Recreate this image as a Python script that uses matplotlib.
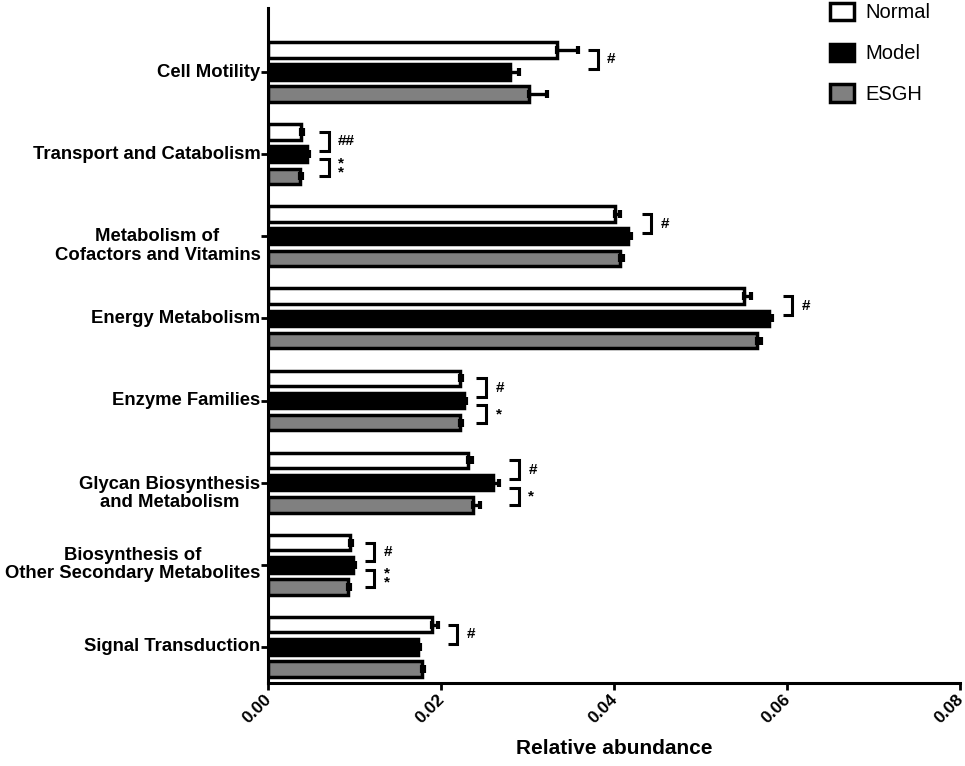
import matplotlib

matplotlib.use("Agg")
import matplotlib.pyplot as plt
import numpy as np
from matplotlib.patches import Patch
from matplotlib.transforms import ScaledTranslation, blended_transform_factory

plt.rcParams["font.family"] = ["Liberation Sans", "DejaVu Sans"]

# ---- data ----
categories = [
    "Cell Motility",
    "Transport and Catabolism",
    "Metabolism of\nCofactors and Vitamins",
    "Energy Metabolism",
    "Enzyme Families",
    "Glycan Biosynthesis\nand Metabolism",
    "Biosynthesis of\nOther Secondary Metabolites",
    "Signal Transduction",
]
normal = [0.0334, 0.0038, 0.0401, 0.0550, 0.0222, 0.0231, 0.0095, 0.0190]
normal_err = [0.0024, 0.0002, 0.0006, 0.0008, 0.0002, 0.0005, 0.0002, 0.0006]
model = [0.0280, 0.0045, 0.0416, 0.0579, 0.0227, 0.0260, 0.0098, 0.0173]
model_err = [0.0010, 0.0002, 0.0004, 0.0004, 0.0002, 0.0007, 0.0002, 0.0003]
esgh = [0.0302, 0.0037, 0.0407, 0.0565, 0.0222, 0.0237, 0.0093, 0.0178]
esgh_err = [0.0020, 0.0002, 0.0003, 0.0005, 0.0002, 0.0008, 0.0002, 0.0002]
groups = ["Normal", "Model", "ESGH"]
x_ticks = [0.00, 0.02, 0.04, 0.06, 0.08]

# significance: (category index, pair 0=Normal-Model / 1=Model-ESGH, mark)
significance = [
    (0, 0, "#"), (1, 0, "##"), (1, 1, "*\n*"), (2, 0, "#"), (3, 0, "#"),
    (4, 0, "#"), (4, 1, "*"), (5, 0, "#"), (5, 1, "*"), (6, 0, "#"),
    (6, 1, "*\n*"), (7, 0, "#"),
]

# ---- styling ----
fills = ["white", "black", "#808080"]
step = 0.27
height = 0.19
edge_lw = 2.5
label_shift = [0, 0, 0.12, 0, 0, 0.13, 0, 0]

fig = plt.figure(figsize=(9.65, 7.66), dpi=100)
ax = fig.add_axes([268 / 965, 1 - 683 / 766, 692 / 965, 675 / 766])

pos = np.arange(len(categories))
series = [(normal, normal_err), (model, model_err), (esgh, esgh_err)]
for i, (vals, errs) in enumerate(series):
    y = pos + (i - 1) * step
    ax.barh(y, vals, height=height, color=fills[i], edgecolor="black",
            linewidth=edge_lw, label=groups[i], zorder=2)
    ax.errorbar(vals, y, xerr=[np.zeros(len(vals)), errs], fmt="none",
                ecolor="black", elinewidth=2.4, capsize=2.8, capthick=3, zorder=3)

# significance brackets
arm = 0.0011
for ci, pair, mark in significance:
    a, b = pair, pair + 1
    ends = [series[k][0][ci] + series[k][1][ci] for k in (a, b)]
    xb = max(ends) + 0.0012 + arm
    y0 = pos[ci] + (a - 1) * step
    y1 = pos[ci] + (b - 1) * step
    if pair == 0:
        y1 -= 0.04
    else:
        y0 += 0.06
    ax.plot([xb - arm, xb, xb, xb - arm], [y0, y0, y1, y1], color="black",
            lw=2.2, solid_capstyle="butt", solid_joinstyle="miter", zorder=3,
            clip_on=False)
    ax.text(xb + 0.0011, (y0 + y1) / 2, mark, ha="left", va="center",
            fontsize=11, fontweight="bold", linespacing=0.55)

ax.set_xlim(0, 0.08)
ax.set_ylim(7.44, -0.78)
ax.set_xticks(x_ticks)
ax.set_xticklabels([])
xtrans = blended_transform_factory(ax.transData, ax.transAxes) + \
    ScaledTranslation(-3 / 72, -6 / 72, fig.dpi_scale_trans)
for v in x_ticks:
    ax.text(v, 0, f"{v:.2f}", transform=xtrans, rotation=45, ha="right",
            va="top", rotation_mode="anchor", fontsize=12.5, fontweight="bold")
ax.set_yticks(pos)
ax.set_yticklabels([])
trans = blended_transform_factory(ax.transAxes, ax.transData)
for p, name, sh in zip(pos, categories, label_shift):
    ax.text(-0.011, p + sh, name, transform=trans, ha="right", va="center",
            multialignment="center", fontsize=13.3, fontweight="bold",
            linespacing=1.1)

fig.text(0.5 * (268 + 960) / 965, 1 - 749 / 766, "Relative abundance",
         ha="center", va="center", fontsize=15, fontweight="bold")
for side in ("top", "right"):
    ax.spines[side].set_visible(False)
for side in ("left", "bottom"):
    ax.spines[side].set_linewidth(2.2)
ax.tick_params(width=2, length=5)

handles = [Patch(facecolor=fills[i], edgecolor="black", linewidth=2.5, label=groups[i])
           for i in range(3)]
fig.legend(handles=handles, loc="upper left", bbox_to_anchor=(812 / 965, 1.02),
           frameon=False, fontsize=14.5, handlelength=1.2, handleheight=0.95,
           labelspacing=1.05, handletextpad=0.55)

fig.savefig("out.png", dpi=100)
